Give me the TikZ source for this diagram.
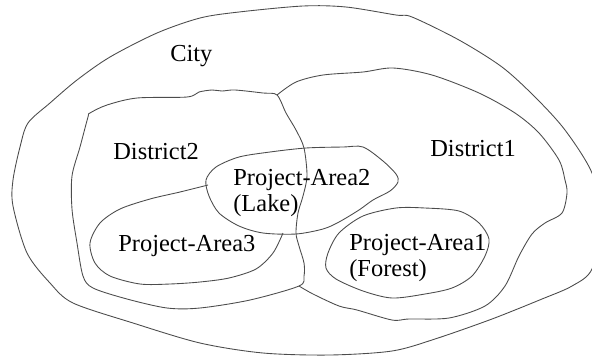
\documentclass[tikz,border=0pt]{standalone}
\usepackage{fontspec}
\setmainfont{Liberation Serif}
\usepackage{tikz}

\tikzset{
  region/.style={draw=black!70, line width=0.5pt},
  lbl/.style={font=\fontsize{13.9}{14.6}\selectfont, inner sep=0pt, align=left}
}

\begin{document}
\begin{tikzpicture}[x=0.02cm,y=-0.02cm]

        % Frame (image pixels, y pointing down)
        \useasboundingbox (0,0) rectangle (592,356);
        \clip (0,0) rectangle (592,356);

        % City: outer region
        \draw[region] plot[smooth cycle, tension=0.5] coordinates {
            (13,180) (20,147) (28,123) (50,103) (77,80) (110,57) (157,33)
            (200,18) (239,12) (303,6) (346,7) (396,15) (412,17) (459,40)
            (502,67) (535,97) (565,130) (592,173) (602,220) (592,269)
            (572,286) (542,299) (492,319) (435,339) (392,351) (330,355)
            (263,353) (200,343) (133,323) (73,303) (50,283) (27,253) (13,206)};

        % District2 (left), closed by the shared border
        \draw[region] plot[smooth cycle, tension=0.5] coordinates {
            (90,113) (107,105) (137,98) (187,97) (199,92) (212,90) (222,91)
            (235,90) (263,93) (277,95) (286,113) (296,130) (304,148)
            (307,176) (303,196) (298,213) (296,233) (299,246) (304,263)
            (304,276) (299,286) (250,300) (200,308) (167,308) (127,299)
            (93,288) (83,276) (77,243) (72,209) (72,176) (80,147) (88,117)};

        % District1 (right), from the top junction round to the bottom one
        \draw[region] plot[smooth, tension=0.5] coordinates {
            (277,95) (296,82) (323,75) (363,72) (393,68) (432,75) (479,93)
            (515,113) (539,133) (559,160) (565,180) (567,193) (562,213)
            (545,223) (532,234) (519,256) (505,286) (485,306) (449,318)
            (409,319) (392,320) (357,310) (339,306) (313,294) (299,286)};

        % Project-Area2 (Lake)
        \draw[region] plot[smooth cycle, tension=0.5] coordinates {
            (206,180) (216,167) (239,157) (270,152) (306,148) (343,147)
            (363,147) (383,161) (396,174) (398,182) (390,191) (373,200)
            (359,210) (339,222) (323,229) (296,234) (263,233) (239,226)
            (219,213) (209,196)};

        % Project-Area3, ends on the lake border
        \draw[region] plot[smooth, tension=0.5] coordinates {
            (283,233) (273,253) (256,269) (229,278) (200,282) (170,284)
            (140,284) (110,276) (95,263) (90,243) (100,223) (120,209)
            (150,199) (180,192) (208,185)};

        % Project-Area1 (Forest)
        \draw[region] plot[smooth cycle, tension=0.5] coordinates {
            (328,253) (339,233) (363,216) (396,208) (425,208) (459,211)
            (479,223) (489,239) (485,256) (472,276) (452,288) (425,294)
            (392,298) (363,291) (336,279) (326,268)};

        % Labels
        \node[lbl, anchor=base west] (city) at (170,61) {City};
        \node[lbl, anchor=base west] (dist2) at (113,159) {District2};
        \node[lbl, anchor=base west] (dist1) at (430,156) {District1};
        \node[lbl, anchor=north west] (area2) at (233,169) {Project-Area2\\(Lake)};
        \node[lbl, anchor=base west] (area3) at (118,251) {Project-Area3};
        \node[lbl, anchor=north west] (area1) at (349,234) {Project-Area1\\(Forest)};

\end{tikzpicture}
\end{document}
